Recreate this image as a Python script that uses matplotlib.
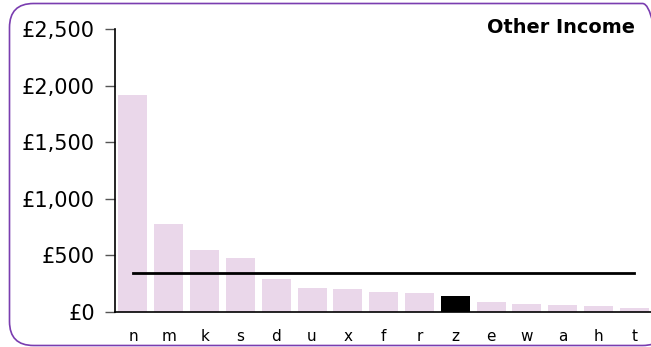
import matplotlib
matplotlib.use("Agg")
import matplotlib.pyplot as plt
from matplotlib.patches import FancyBboxPatch
from matplotlib.transforms import IdentityTransform
from matplotlib.ticker import FuncFormatter
import numpy as np

## data ##

names = ['n', 'm', 'k', 's', 'd', 'u', 'x', 'f', 'r', 'z', 'e', 'w', 'a', 'h', 't']
income = [1920, 780, 548, 474, 289, 209, 203, 177, 168, 141, 88, 68, 66, 50, 38]
highlight = 'z'
title = 'Other Income'

bar_colour = '#EAD7EA'
frame_colour = '#7A3DB0'

plt.rcParams['font.family'] = ['DejaVu Sans']

fig = plt.figure(figsize=(6.51, 3.47), dpi=100)
ax = fig.add_axes([0.1767, 0.1009, 0.8233 + 0.002, 0.8155])

x = np.arange(len(names))
colours = ['black' if n == highlight else bar_colour for n in names]
ax.bar(x, income, width=0.81, color=colours, zorder=2)

## average line across the bar centres ##
avg = np.mean(income)
ax.plot([x[0], x[-1]], [avg, avg], color='black', linewidth=2, zorder=3)

ax.set_xlim(-0.5, len(names) - 0.5)
ax.set_ylim(0, 2500)
ax.set_yticks([0, 500, 1000, 1500, 2000, 2500])
ax.yaxis.set_major_formatter(FuncFormatter(lambda v, p: '£{:,.0f}'.format(v)))
ax.set_xticks(x)
ax.set_xticklabels(names)

ax.tick_params(axis='y', length=7, width=1, color='#555555', pad=7.5, labelsize=15)
ax.tick_params(axis='x', length=0, pad=12.5, labelsize=11)

for side in ['top', 'right']:
    ax.spines[side].set_visible(False)
for side in ['left', 'bottom']:
    ax.spines[side].set_linewidth(1.2)
    ax.spines[side].set_color('black')

ax.text(0.975, 0.904, title, transform=fig.transFigure, ha='right', va='baseline',
        fontsize=13.9, fontweight='bold')

## rounded frame round the whole chart, in pixels ##
frame = FancyBboxPatch((9.5, 1.5), 657, 342,
                       boxstyle='round,pad=0,rounding_size=24',
                       transform=IdentityTransform(), facecolor='none',
                       edgecolor=frame_colour, linewidth=1.2, zorder=0)
fig.add_artist(frame)

fig.savefig('out.png', dpi=100)
